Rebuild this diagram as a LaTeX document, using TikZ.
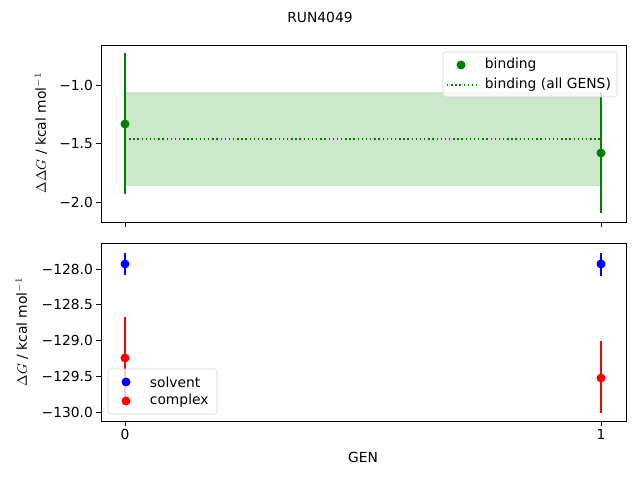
\documentclass[tikz,border=0pt]{standalone}
\usepackage{fontspec}
\setmainfont{DejaVu Sans}
\definecolor{mplgreen}{RGB}{0,128,0}
\begin{document}
\begin{tikzpicture}[x=0.01in,y=-0.01in,font=\fontsize{10}{12}\selectfont]
      \tikzset{pt/.style={circle, inner sep=0pt, minimum size=6.5pt},
               bar/.style={line width=1.1pt},
               tick/.style={line width=0.6pt}}
      \useasboundingbox (0,0) rectangle (640,480);
%% Title
      \node (title) at (320,17) {RUN4049};
%% Top axes
      \fill[mplgreen, opacity=0.2] (125,92) rectangle (601,186);
      \draw[mplgreen, dotted, line width=1pt] (125,139) -- (601,139);
      \coordinate (t0a) at (125,53); \coordinate (t0b) at (125,194);
      \coordinate (t1a) at (601,92); \coordinate (t1b) at (601,213);
      \draw[bar, mplgreen] (t0a) -- (t0b);
      \draw[bar, mplgreen] (t1a) -- (t1b);
      \node[pt, fill=mplgreen] (b0) at (125,124) {};
      \node[pt, fill=mplgreen] (b1) at (601,153) {};
      \draw[line width=0.6pt] (101,45) rectangle (626,222);
      \foreach \lab/\y in {1.0/85,1.5/143.5,2.0/202}
      	{\draw[tick] (101,\y) -- (96,\y);
      	 \node[anchor=east, inner sep=2pt] at (96,\y) {−\lab};}
      \foreach \x in {125,601} \draw[tick] (\x,222) -- (\x,227);
      \node[rotate=90] (ylabtop) at (41,133) {$\Delta\Delta G$ / kcal mol$^{-1}$};
%Top legend
      \draw[black!20, fill=white, opacity=0.8, rounded corners=2pt] (443,52) rectangle (617,97);
      \node[pt, fill=mplgreen] (lb) at (461,65) {};
      \node[anchor=west] (lbt) at (480,65) {binding};
      \coordinate (ld0) at (447,85); \coordinate (ld1) at (477,85);
      \draw[mplgreen, dotted, line width=1pt] (ld0) -- (ld1);
      \node[anchor=west] (ldt) at (480,85) {binding (all GENS)};
%% Bottom axes
      \coordinate (s0a) at (125,253); \coordinate (s0b) at (125,275);
      \coordinate (s1a) at (601,253); \coordinate (s1b) at (601,276);
      \coordinate (c0a) at (125,317); \coordinate (c0b) at (125,400);
      \coordinate (c1a) at (601,341); \coordinate (c1b) at (601,413);
      \draw[bar, blue] (s0a) -- (s0b);
      \draw[bar, blue] (s1a) -- (s1b);
      \draw[bar, red] (c0a) -- (c0b);
      \draw[bar, red] (c1a) -- (c1b);
      \node[pt, fill=blue] (s0) at (125,264) {};
      \node[pt, fill=blue] (s1) at (601,264) {};
      \node[pt, fill=red] (c0) at (125,358) {};
      \node[pt, fill=red] (c1) at (601,378) {};
      \draw[line width=0.6pt] (101,243) rectangle (626,421);
      \foreach \lab [count=\i from 0] in {128.0,128.5,129.0,129.5,130.0}
      	{\draw[tick] (101,269+35.75*\i) -- (96,269+35.75*\i);
      	 \node[anchor=east, inner sep=2pt] at (96,269+35.75*\i) {−\lab};}
      \foreach \x/\l in {125/0,601/1}
      	{\draw[tick] (\x,421) -- (\x,426);
      	 \node[anchor=north, inner sep=2pt] at (\x,426) {\l};}
      \node (xlab) at (363,457) {GEN};
      \node[rotate=90] (ylabbot) at (22,332) {$\Delta G$ / kcal mol$^{-1}$};
%Bottom legend
      \draw[black!20, fill=white, opacity=0.8, rounded corners=2pt] (108,369) rectangle (217,414);
      \node[pt, fill=blue] (ls) at (126,382) {};
      \node[anchor=west] (lst) at (145,382) {solvent};
      \node[pt, fill=red] (lc) at (126,401) {};
      \node[anchor=west] (lct) at (145,401) {complex};
\end{tikzpicture}
\end{document}
